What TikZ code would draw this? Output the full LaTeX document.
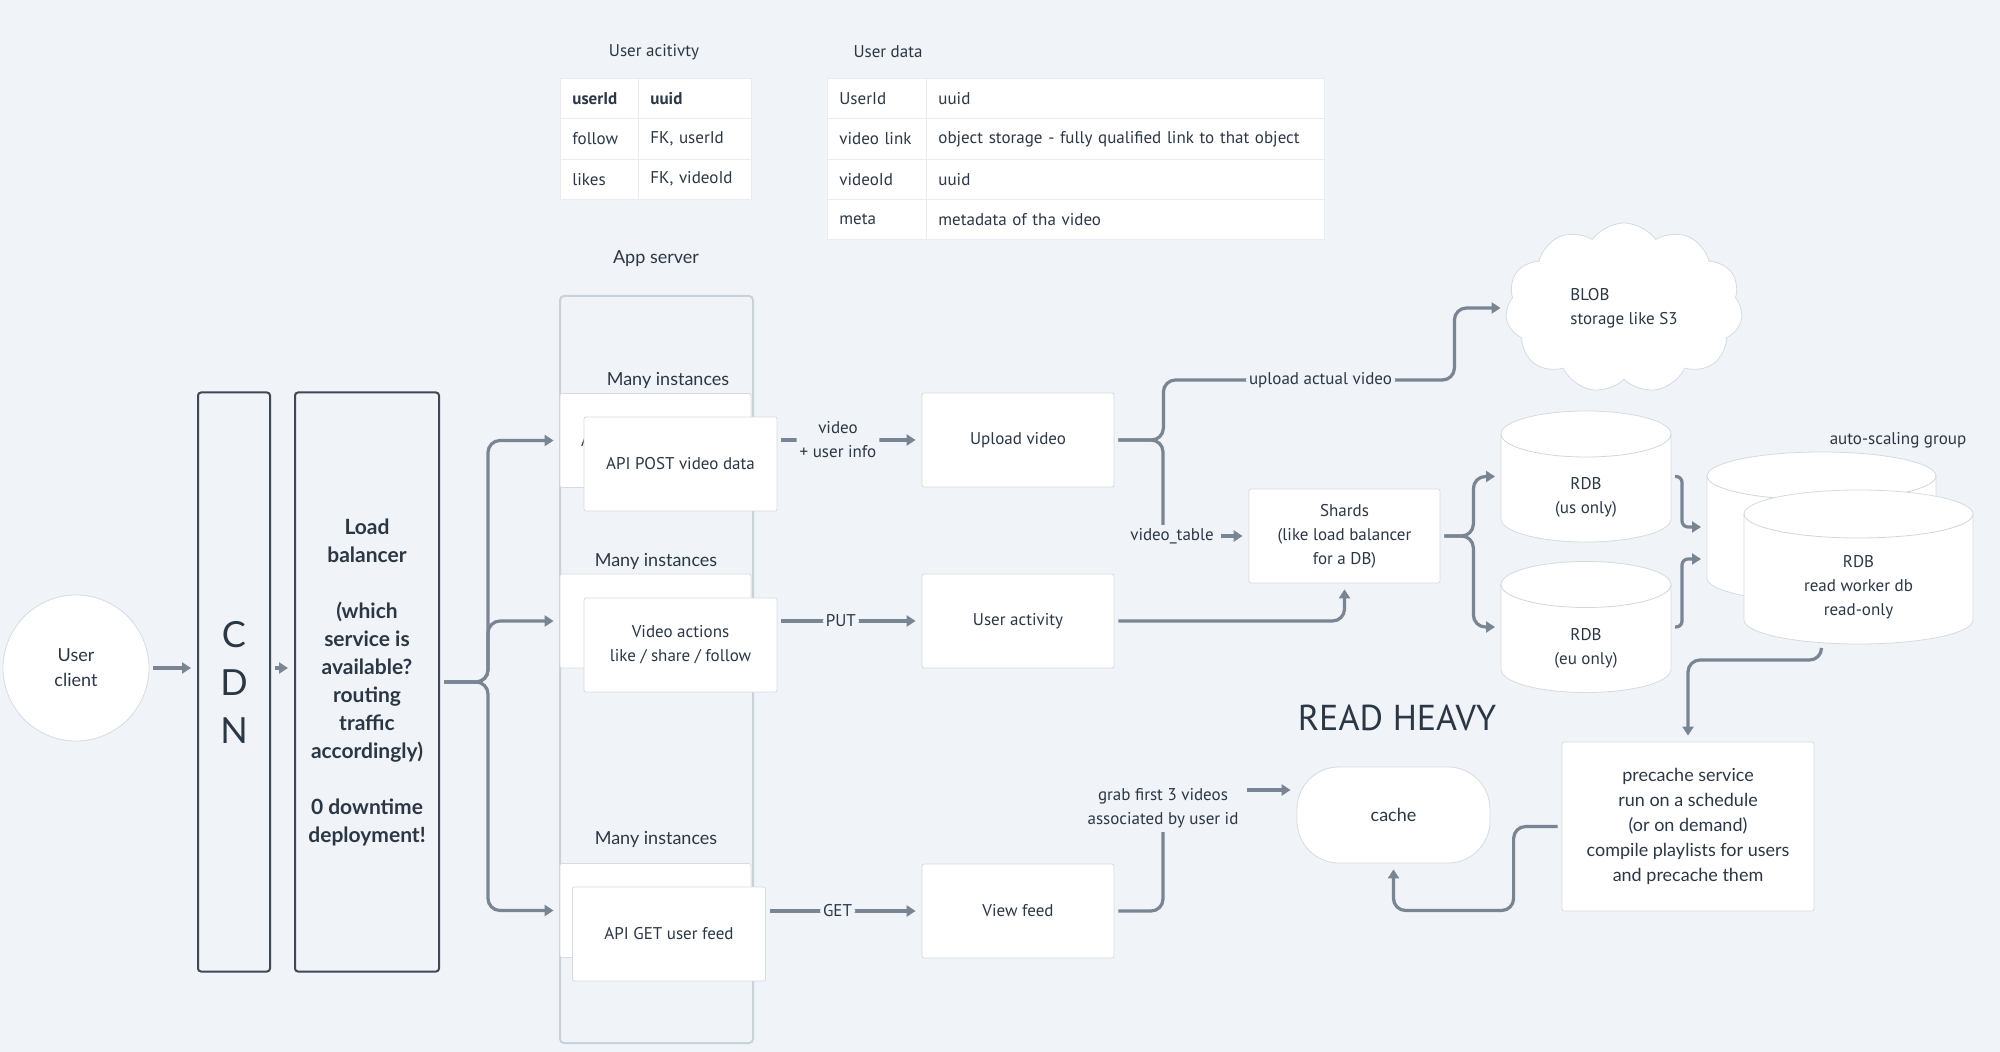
\documentclass[tikz,border=0pt]{standalone}
\usepackage{fontspec}
\setmainfont{PT Sans}
\newfontfamily\roundfont{Lato}
\usetikzlibrary{arrows.meta, positioning, calc, shapes.geometric, shapes.symbols}

\definecolor{bgcol}{RGB}{240,243,247}
\definecolor{linecol}{RGB}{122,133,148}
\definecolor{txtcol}{RGB}{44,55,69}
\definecolor{framecol}{RGB}{62,72,86}
\definecolor{appcol}{RGB}{201,209,219}
\definecolor{edgecol}{RGB}{214,219,225}
\definecolor{sepcol}{RGB}{232,235,239}

% cylinder drawn inside a named node: node, x radius, y radius
\newcommand\dbshape[3]{%
    \path[draw=edgecol, fill=white] ([yshift=-#3]#1.north west) -- ([yshift=#3]#1.south west)
        arc[start angle=180, end angle=360, x radius=#2, y radius=#3]
        -- ([yshift=-#3]#1.north east)
        arc[start angle=0, end angle=180, x radius=#2, y radius=#3] -- cycle;
    \draw[edgecol!85!black!60] ([yshift=-#3]#1.north west) arc[start angle=180, end angle=360, x radius=#2, y radius=#3];
}

\begin{document}
\begin{tikzpicture}[
    x=0.5pt, y=-0.5pt,
    >={Triangle[length=4.5pt,width=5.5pt]},
    font=\fontsize{8.5}{12}\selectfont,
    text=txtcol,
    every node/.style={align=center, inner sep=2pt},
    box/.style={draw=edgecol, fill=white, rounded corners=1pt, minimum width=96pt, minimum height=47pt},
    tallbox/.style={draw=framecol, line width=1pt, rounded corners=1.5pt, minimum width=36pt, minimum height=289.5pt},
    dbbox/.style={inner sep=0pt, outer sep=0pt, minimum width=85pt, minimum height=65.5pt},
    cell/.style={draw=sepcol, fill=white, anchor=north west, minimum height=20.15pt, inner xsep=6pt, align=left},
    rtext/.style={font=\roundfont\fontsize{9}{12.5}\selectfont},
    lbl/.style={fill=bgcol, inner sep=1.5pt},
    flow/.style={->, draw=linecol, line width=1.6pt, rounded corners=6pt, shorten >=3pt, shorten <=2pt},
    link/.style={draw=linecol, line width=1.6pt, rounded corners=6pt, shorten <=2pt}
]
\fill[bgcol] (0,0) rectangle (2000,1052);
\useasboundingbox (0,0) rectangle (2000,1052);

% tables
\node (uatitle) at (654, 52) {User acitivty};
\foreach \k/\a/\b in {0/{\bfseries userId}/{\bfseries uuid}, 1/follow/{FK, userId}, 2/likes/{FK, videoId}} {
    \node[cell, text width=27pt] (uaa\k) at (560, 78+40.3*\k) {\a};
    \node[cell, text width=44.5pt] (uab\k) at (638, 78+40.3*\k) {\b};
}

\node (udtitle) at (888, 52) {User data};
\foreach \k/\a/\b in {0/UserId/uuid, 1/video link/object storage - fully qualified link to that object, 2/videoId/uuid, 3/meta/metadata of tha video} {
    \node[cell, text width=37.5pt] (uda\k) at (827, 78+40.3*\k) {\a};
    \node[cell, text width=187pt] (udb\k) at (926, 78+40.3*\k) {\b};
}

% client, CDN, load balancer
\node[circle, draw=edgecol, fill=white, minimum size=73pt, rtext] (client) at (76, 668) {User\\client};
\node[tallbox, font=\roundfont\fontsize{18}{24}\selectfont] (cdn) at (234, 682) {C\\D\\N};
\node[tallbox, minimum width=72pt, font=\roundfont\bfseries\fontsize{10.5}{14}\selectfont] (lb) at (367, 682)
    {Load\\balancer\\[14pt](which\\service is\\available?\\routing\\traffic\\accordingly)\\[14pt]0 downtime\\deployment!};

\draw[flow] (client.east) -- (client.east -| cdn.west);
\draw[flow] (cdn.east |- client) -- (lb.west |- client);

% app server
\node[rtext] (apptitle) at (656, 259) {App server};
\node[draw=appcol, line width=1pt, rounded corners=2pt, minimum width=96.5pt, minimum height=373.5pt] (app) at (656.5, 669.5) {};

\foreach \n/\by/\fx/\fy/\lx/\ly/\txt in {post/440.5/680.5/464/668/380/API POST video data,
        act/621/680.5/645/656/561/{Video actions\\like / share / follow},
        feed/910.5/669/934/656/839/API GET user feed} {
    \node[rtext] at (\lx, \ly) {Many instances};
    \node[box, minimum width=95.5pt] (b\n) at (655.5, \by) {\txt};
    \node[box, minimum width=96.5pt] (f\n) at (\fx, \fy) {\txt};
    \draw[flow] (lb.east) -- ++(48,0) |- (b\n.west);
}

% services
\node[box] (upload) at (1018, 440) {Upload video};
\node[box] (useract) at (1018, 621) {User activity};
\node[box] (viewfeed) at (1018, 911) {View feed};

\draw[flow] (fpost.east |- upload) -- node[lbl, pos=0.42] {video\\+ user info} (upload.west);
\draw[flow] (fact.east |- useract) -- node[lbl, pos=0.44] {PUT} (useract.west);
\draw[flow] (ffeed.east |- viewfeed) -- node[lbl, pos=0.46] {GET} (viewfeed.west);

% storage
\node[cloud, cloud puffs=11, cloud puff arc=110, aspect=1.4, draw=edgecol, fill=white,
    minimum width=118.5pt, minimum height=85pt, align=left] (blob) at (1624, 308) {BLOB\\storage like S3};
\draw[flow] (upload.east) -- ++(49,0) |- node[lbl, pos=0.77] {upload actual video} ++(291,-60) |- (blob.west);

\node[lbl] (vtable) at (1172, 536) {video\_table};
\draw[link] (upload.east) -| ([xshift=-4.5pt]vtable.north);

\node[box, minimum width=95.5pt] (shards) at (1344.5, 536) {Shards\\(like load balancer\\for a DB)};
\draw[flow] (vtable.east) -- (shards.west);
\draw[flow] (useract.east) -| (shards.south);

\node[dbbox] (rdbus) at (1586, 476.5) {};
\dbshape{rdbus}{42.5pt}{11.5pt}
\node (rdbustext) at ([yshift=-10.5pt]rdbus.center) {RDB\\(us only)};
\node[dbbox] (rdbeu) at (1586, 627) {};
\dbshape{rdbeu}{42.5pt}{11.5pt}
\node (rdbeutext) at ([yshift=-10.5pt]rdbeu.center) {RDB\\(eu only)};
\foreach \d in {rdbus, rdbeu}
    \draw[flow] (shards.east) -- ++(33,0) |- (\d.west);

% auto-scaling group
\node (asglabel) at (1898, 440) {auto-scaling group};
\node[dbbox, minimum width=114.5pt, minimum height=75pt] (asgb) at (1821.5, 527) {};
\dbshape{asgb}{57.25pt}{12pt}
\node[dbbox, minimum width=114.5pt, minimum height=77pt] (asgf) at (1858.5, 567) {};
\dbshape{asgf}{57.25pt}{12pt}
\node (asgftext) at ([yshift=-10pt]asgf.center) {RDB\\read worker db\\read-only};
\draw[flow, rounded corners=3pt] (rdbus.east) -- ++(11,0) |- (asgb.west);
\draw[flow, rounded corners=3pt] (rdbeu.east) -- ++(11,0) |- ([yshift=-16pt]asgb.west);

% read path
\node[box, minimum width=126pt, minimum height=84.5pt, rtext] (precache) at (1688, 826.5)
    {precache service\\run on a schedule\\(or on demand)\\compile playlists for users\\and precache them};
\draw[flow] (asgb.south |- asgf.south) -- ++(0,16) -| (precache.north);

\node[box, minimum width=96.5pt, minimum height=48pt, rounded corners=21pt, rtext] (cache) at (1393.5, 815) {cache};
\draw[flow] (precache.west) -- ++(-48,0) -- ++(0,84) -| (cache.south);

\node[font=\fontsize{18}{20}\selectfont] (readheavy) at (1397, 718) {READ HEAVY};

\node (grab) at (1163, 808) {grab first 3 videos\\associated by user id};
\draw[link] (viewfeed.east) -| (grab.south);
\draw[flow] ([yshift=9pt]grab.east) -- ([yshift=12.5pt]cache.west);

\end{tikzpicture}
\end{document}
